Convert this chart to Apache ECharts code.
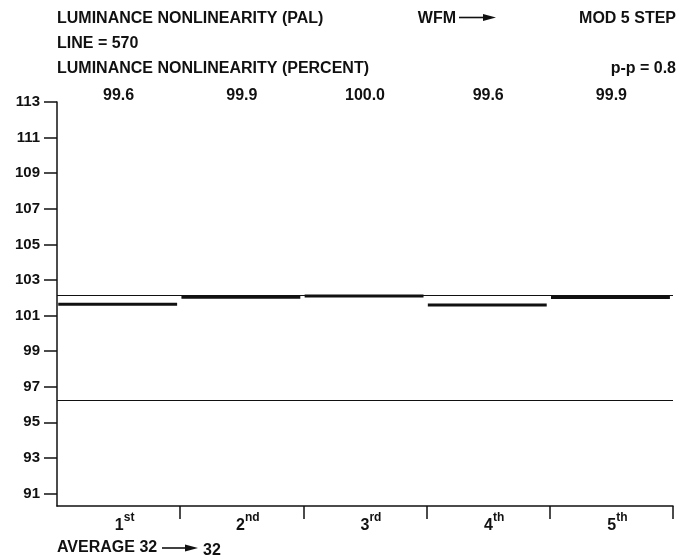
<!DOCTYPE html>
<html>
<head>
<meta charset="utf-8">
<script src="https://cdn.jsdelivr.net/npm/echarts@6/dist/echarts.min.js"></script>
<style>
html, body { margin: 0; padding: 0; background: #fff; }
#main { width: 692px; height: 559px; }
</style>
</head>
<body>
<div id="main"></div>
<script>
// step names + ordinal suffix (drawn as superscript)
var stepNames = ['1', '2', '3', '4', '5'];
var stepSuffix = ['st', 'nd', 'rd', 'th', 'th'];
// readings printed above each step
var stepReadings = ['99.6', '99.9', '100.0', '99.6', '99.9'];
// level of each step on the 91..113 scale
var stepLevels = [101.63, 102.03, 102.1, 101.6, 102.02];
// the two thin reference lines
var limitLines = [102.16, 96.24];
var yTicks = [91, 93, 95, 97, 99, 101, 103, 105, 107, 109, 111, 113];

var FONT = '"Liberation Sans", Arial, Helvetica, sans-serif';
var INK = '#111';

var myChart = echarts.init(document.getElementById('main'));

var stepData = [];
for (var i = 0; i < stepLevels.length; i++) {
	stepData.push([i + 0.01, stepLevels[i]]);
	stepData.push([i + 0.975, stepLevels[i]]);
	stepData.push([i + 0.99, '-']);
}

var bandCenters = stepNames.map(function (n, i) { return i + 0.5; });
var bandEdges = stepNames.map(function (n, i) { return i + 1; });

function txt(x, y, text, size, align) {
	return {
		type: 'text',
		x: x,
		y: y,
		style: {
			text: text,
			fill: INK,
			font: 'bold ' + size + 'px ' + FONT,
			textAlign: align || 'left',
			textVerticalAlign: 'middle'
		}
	};
}

function arrow(x0, x1, y) {
	return {
		type: 'group',
		children: [
			{ type: 'line', shape: { x1: x0, y1: y, x2: x1 - 10, y2: y }, style: { stroke: INK, lineWidth: 1.6 } },
			{ type: 'polygon', shape: { points: [[x1 - 13, y - 3.4], [x1, y], [x1 - 13, y + 3.4]] }, style: { fill: INK } }
		]
	};
}

myChart.setOption({
	animation: false,
	backgroundColor: '#fff',
	grid: { left: 57, right: 19, top: 102, bottom: 53 },
	xAxis: [{
		type: 'value',
		position: 'bottom',
		min: 0,
		max: 5,
		splitLine: { show: false },
		axisLine: { show: true, lineStyle: { color: INK, width: 1.5 } },
		axisTick: { show: true, customValues: bandEdges, length: 13, lineStyle: { color: INK, width: 1.5 } },
		axisLabel: {
			customValues: bandCenters,
			margin: 6,
			padding: [0, 0, 0, 12],
			formatter: function (v) {
				var k = Math.floor(v);
				return '{n|' + stepNames[k] + '}{sup|' + stepSuffix[k] + '}';
			},
			rich: {
				n: { fontSize: 16, fontWeight: 'bold', fontFamily: FONT, color: INK, verticalAlign: 'bottom', lineHeight: 22 },
				sup: { fontSize: 12, fontWeight: 'bold', fontFamily: FONT, color: INK, verticalAlign: 'top', lineHeight: 12 }
			}
		}
	}, {
		type: 'value',
		position: 'top',
		min: 0,
		max: 5,
		splitLine: { show: false },
		axisLine: { show: false },
		axisTick: { show: false },
		axisLabel: {
			customValues: bandCenters,
			margin: -2,
			color: INK,
			fontFamily: FONT,
			fontWeight: 'bold',
			fontSize: 16,
			formatter: function (v) { return stepReadings[Math.floor(v)]; }
		}
	}],
	yAxis: {
		type: 'value',
		min: 90.3,
		max: 113,
		splitLine: { show: false },
		axisLine: { show: true, lineStyle: { color: INK, width: 1.5 } },
		axisTick: { show: true, customValues: yTicks, length: 13, lineStyle: { color: INK, width: 1.5 } },
		axisLabel: {
			customValues: yTicks,
			margin: 17,
			color: INK,
			fontFamily: FONT,
			fontWeight: 'bold',
			fontSize: 15
		}
	},
	series: [{
		name: 'limits',
		type: 'line',
		data: [],
		z: 1,
		markLine: {
			silent: true,
			symbol: ['none', 'none'],
			label: { show: false },
			lineStyle: { color: INK, width: 1, type: 'solid' },
			data: limitLines.map(function (v) { return { yAxis: v }; })
		}
	}, {
		name: 'steps',
		type: 'line',
		z: 3,
		symbol: 'none',
		connectNulls: false,
		lineStyle: { color: INK, width: 3 },
		data: stepData
	}],
	graphic: [
		txt(57, 19, 'LUMINANCE NONLINEARITY (PAL)', 16),
		txt(456, 19, 'WFM', 16, 'right'),
		arrow(459, 496, 17.5),
		txt(676, 19, 'MOD 5 STEP', 16, 'right'),
		txt(57, 44, 'LINE = 570', 16),
		txt(57, 68.5, 'LUMINANCE NONLINEARITY (PERCENT)', 16),
		txt(676, 68.5, 'p-p = 0.8', 16, 'right'),
		txt(57, 548, 'AVERAGE 32', 16),
		arrow(162, 198, 548),
		txt(203, 551, '32', 16)
	]
});
</script>
</body>
</html>
